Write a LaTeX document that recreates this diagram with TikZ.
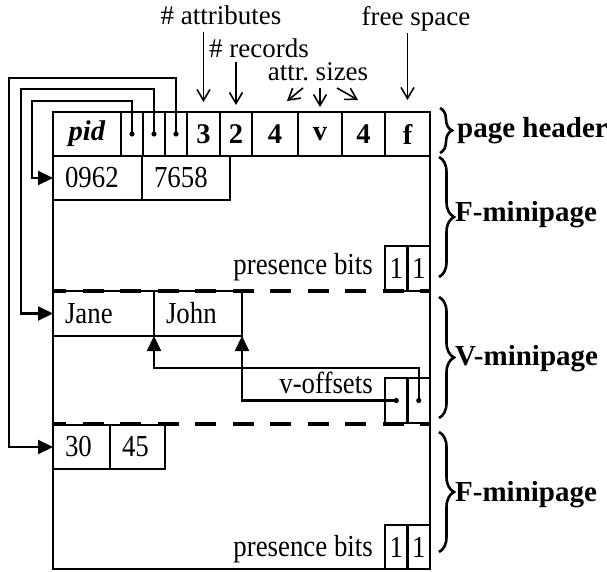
\documentclass[tikz,border=0pt]{standalone}
\usepackage{fontspec}
\setmainfont{Liberation Serif}
\newfontfamily\cellfamily{Liberation Serif}[FakeStretch=0.88]
\usepackage{tikz}
\usetikzlibrary{positioning,arrows.meta,decorations.pathreplacing}

\newcommand{\basefont}{\fontsize{27}{32}\selectfont}
\newcommand{\cellfont}{\cellfamily\fontsize{30.5}{36}\selectfont}
\newcommand{\tagfont}{\fontsize{29}{34}\selectfont\bfseries}

\begin{document}
\begin{tikzpicture}[
    x=1pt, y=-1pt,
    node distance=0pt,
    font=\basefont,
    hcell/.style={draw, line width=2.8pt, outer sep=0pt, inner sep=0pt, minimum height=44pt, font=\fontsize{28.5}{34}\selectfont\bfseries},
    rcell/.style={draw, line width=2.2pt, outer sep=0pt, inner xsep=12pt, inner ysep=0pt, minimum height=44pt, align=left, font=\cellfont},
    bcell/.style={draw, line width=2.6pt, outer sep=0pt, inner sep=0pt, minimum width=22.5pt, minimum height=45pt, font=\cellfont},
    note/.style={anchor=base east, inner sep=0pt, font=\cellfont},
    top/.style={anchor=base, inner sep=0pt},
    ptr/.style={line width=2.2pt, -{Triangle[length=15pt,width=14pt]}},
    lbl/.style={line width=1.6pt, -{Straight Barb[length=11pt,width=13pt]}},
    sep/.style={line width=4.5pt, dash pattern=on 21pt off 16.5pt, dash phase=8pt},
    part/.style={decorate, decoration={brace, amplitude=#1}, line width=2.6pt},
    tag/.style={anchor=west, inner sep=0pt, font=\tagfont}
]
\useasboundingbox (0,0) rectangle (607,572);

% page body
\draw[line width=2.2pt] (53,156) rectangle (430,569);

% page header
\node[hcell, minimum width=68pt, anchor=north west] (pid) at (53,112) {\textit{pid}};
\node[hcell, minimum width=22pt, right=of pid] (p1) {};
\node[hcell, minimum width=22pt, right=of p1] (p2) {};
\node[hcell, minimum width=22pt, right=of p2] (p3) {};
\node[hcell, minimum width=33pt, right=of p3] (nattr) {3};
\node[hcell, minimum width=32pt, right=of nattr] (nrec) {2};
\node[hcell, minimum width=46pt, right=of nrec] (sz1) {4};
\node[hcell, minimum width=44pt, right=of sz1] (szv) {v};
\node[hcell, minimum width=43pt, right=of szv] (sz2) {4};
\node[hcell, minimum width=45pt, right=of sz2] (free) {f};

% header labels
\node[top] (lattr) at (221,25) {\# attributes};
\node[top] (lrec) at (259,58) {\# records};
\node[top] (lsizes) at (318,81) {attr.\ sizes};
\node[top] (lfree) at (416,26) {free space};

\draw[lbl, shorten <=4pt, shorten >=7pt] (lrec.base -| nrec.north) -- (nrec.north);
\draw[lbl, shorten <=7pt, shorten >=10pt] (lattr.base -| nattr.north) -- (nattr.north);
\draw[lbl, shorten <=7pt, shorten >=5pt] (lsizes.base -| szv.north) -- (szv.north);
\draw[lbl] ([xshift=-15pt,yshift=-7pt]lsizes.base) -- ([xshift=-31pt,yshift=-20pt]lsizes.base);
\draw[lbl] ([xshift=19pt,yshift=-7pt]lsizes.base) -- ([xshift=40pt,yshift=-19pt]lsizes.base);
\draw[lbl, shorten <=7pt, shorten >=12pt] (lfree.base -| free.north) -- (free.north);

% F-minipage
\node[rcell, text width=65pt, anchor=north west] (r0962) at (53,156) {0962};
\node[rcell, text width=64pt, right=of r0962] (r7658) {7658};
\node[bcell, anchor=north west] (pa1) at (385,246) {1};
\node[bcell, right=of pa1] (pa2) {1};
\node[note] (lpa) at ([xshift=-12pt,yshift=-6pt]pa1.west) {presence bits};

% V-minipage
\node[rcell, text width=77pt, minimum height=45pt, anchor=north west] (jane) at (53,291) {Jane};
\node[rcell, text width=64pt, minimum height=45pt, right=of jane] (john) {John};
\node[bcell, anchor=north west] (vo1) at (385,378) {};
\node[bcell, right=of vo1] (vo2) {};
\node[note] (lvo) at ([xshift=-12pt,yshift=7.5pt]vo1.west) {v-offsets};

% second F-minipage
\node[rcell, text width=33pt, anchor=north west] (r30) at (53,425) {30};
\node[rcell, text width=31pt, right=of r30] (r45) {45};
\node[bcell, minimum height=44pt, anchor=north west] (pb1) at (385,525) {1};
\node[bcell, minimum height=44pt, right=of pb1] (pb2) {1};
\node[note] (lpb) at ([xshift=-12pt,yshift=-9pt]pb1.west) {presence bits};

% minipage borders
\draw[sep] (53,291) -- (430,291);
\draw[sep] (53,424) -- (430,424);

% pointers to the minipages
\coordinate (k1) at (32,101);
\coordinate (k2) at (21,89);
\coordinate (k3) at (9,78);
\fill (p1.center) circle (2.6pt);
\fill (p2.center) circle (2.6pt);
\fill (p3.center) circle (2.6pt);
\draw[ptr] (p1.center) |- (k1) |- (r0962.west);
\draw[ptr] (p2.center) |- (k2) |- (jane.west);
\draw[ptr] (p3.center) |- (k3) |- (r30.west);

% v-offsets
\coordinate (k4) at (154,368);
\fill (vo1.center) circle (2.6pt);
\fill (vo2.center) circle (2.6pt);
\draw[ptr] (vo2.center) |- (k4) -- (jane.south east);
\draw[ptr] (vo1.center) -| (john.south east);

% braces
\draw[part=12pt] (440,108) -- (440,153);
\draw[part=15pt] (439,157) -- (439,277);
\draw[part=15pt] (439,297) -- (439,418);
\draw[part=15pt] (439,432) -- (439,552);
\node[tag] (lhdr) at (457,131) {page header};
\node[tag] (lf1) at (455,215) {F-minipage};
\node[tag] (lv) at (455,359) {V-minipage};
\node[tag] (lf2) at (455,495) {F-minipage};
\end{tikzpicture}
\end{document}
